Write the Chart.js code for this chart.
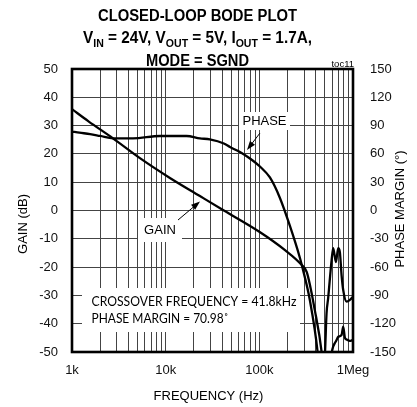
<!DOCTYPE html>
<html>
<head>
<meta charset="utf-8">
<script src="https://cdn.jsdelivr.net/npm/chart.js@4"></script>
<style>
  body { margin: 0; background: #fff; }
  canvas { display: block; }
</style>
</head>
<body>
<canvas id="grafico" width="417" height="407"></canvas>
<script>
// datos
const gainFreq = [1000, 1500, 2740, 5310, 11100, 23200, 41800, 100000, 188000, 284000, 321000, 391000, 464000, 480000, 501000, 522000, 543000, 591000, 615000, 657000, 695000, 724000, 755000, 786000, 855000, 926000, 1000000];
const gainDb = [35.8, 31.5, 25.5, 18.5, 11.5, 5.1, 0, -7.5, -14, -19.3, -21.8, -35.2, -50.4, -56, -51, -36.3, -31, -17.5, -13.3, -18.2, -13.3, -14.7, -22.8, -28.1, -32.2, -31.6, -30.5];

const phaseFreq = [1000, 1200, 1560, 2000, 2740, 4480, 8690, 16700, 23200, 29600, 41800, 48600, 62100, 79400, 101500, 129700, 165900, 212100, 271300, 284000, 346000, 420000, 440000, 560000, 591000, 668000, 695000, 755000, 786000, 820000, 855000, 926000, 1000000];
const phaseDeg = [83.7, 82.5, 81, 79, 76.5, 76.5, 79, 79, 76.5, 75.3, 71, 67.3, 62, 55.1, 46.6, 35, 13.3, -16.4, -50.3, -57.8, -94.9, -151, -175, -175, -151.4, -137.3, -133.8, -132, -123.2, -135, -136.7, -138.3, -137];

const freqTicks = [1000, 2000, 3000, 4000, 5000, 6000, 7000, 8000, 9000,
  10000, 20000, 30000, 40000, 50000, 60000, 70000, 80000, 90000,
  100000, 200000, 300000, 400000, 500000, 600000, 700000, 800000, 900000, 1000000];
const freqLabelValues = [1000, 10000, 100000, 1000000];
const freqLabelText = ['1k', '10k', '100k', '1Meg'];

const gainMin = -50, gainMax = 50, gainStep = 10;
const phaseMin = -150, phaseMax = 150, phaseStep = 30;

const fuente = "'Liberation Sans', Arial, sans-serif";
const colorGrilla = '#444';

// texto con subindices, comprimido al ancho pedido
function textoRico(ctx, partes, cx, base, ancho) {
  let total = 0;
  partes.forEach(p => {
    ctx.font = p.sub ? `bold 11px ${fuente}` : `bold 16px ${fuente}`;
    total += ctx.measureText(p.t).width;
  });
  ctx.save();
  ctx.translate(cx, base);
  ctx.scale(ancho / total, 1);
  ctx.textAlign = 'left';
  ctx.textBaseline = 'alphabetic';
  let x = -total / 2;
  partes.forEach(p => {
    ctx.font = p.sub ? `bold 11px ${fuente}` : `bold 16px ${fuente}`;
    ctx.fillText(p.t, x, p.sub ? 3.6 : 0);
    x += ctx.measureText(p.t).width;
  });
  ctx.restore();
}

function textoAjustado(ctx, txt, x, base, ancho, font) {
  ctx.save();
  ctx.font = font;
  const w = ctx.measureText(txt).width;
  ctx.translate(x, base);
  ctx.scale(ancho / w, 1);
  ctx.textAlign = 'left';
  ctx.textBaseline = 'alphabetic';
  ctx.fillText(txt, 0, 0);
  ctx.restore();
}

function flecha(ctx, x1, y1, x2, y2) {
  const ang = Math.atan2(y2 - y1, x2 - x1);
  const largo = 9, mitad = 3.2;
  ctx.save();
  ctx.strokeStyle = '#000';
  ctx.fillStyle = '#000';
  ctx.lineWidth = 1;
  ctx.beginPath();
  ctx.moveTo(x1, y1);
  ctx.lineTo(x2 - largo * Math.cos(ang) * 0.8, y2 - largo * Math.sin(ang) * 0.8);
  ctx.stroke();
  ctx.beginPath();
  ctx.moveTo(x2, y2);
  ctx.lineTo(x2 - largo * Math.cos(ang) + mitad * Math.sin(ang), y2 - largo * Math.sin(ang) - mitad * Math.cos(ang));
  ctx.lineTo(x2 - largo * Math.cos(ang) - mitad * Math.sin(ang), y2 - largo * Math.sin(ang) + mitad * Math.cos(ang));
  ctx.closePath();
  ctx.fill();
  ctx.restore();
}

const marcos = {
  id: 'marcos',
  beforeDatasetsDraw(chart) {
    const ctx = chart.ctx;
    ctx.save();
    ctx.fillStyle = '#fff';
    ctx.fillRect(239, 112, 51, 18);   // PHASE
    ctx.fillRect(138, 218, 44, 24);   // GAIN
    ctx.fillRect(82, 288, 218, 44);   // CROSSOVER
    ctx.restore();
  },
  afterDatasetsDraw(chart) {
    const ctx = chart.ctx;
    const a = chart.chartArea;
    ctx.save();
    ctx.strokeStyle = '#000';
    ctx.lineWidth = 2.6;
    ctx.strokeRect(a.left, a.top, a.right - a.left, a.bottom - a.top);
    ctx.restore();
  },
  afterDraw(chart) {
    const ctx = chart.ctx;
    ctx.save();
    ctx.fillStyle = '#000';

    textoRico(ctx, [{ t: 'CLOSED-LOOP BODE PLOT' }], 197.5, 20.7, 199);
    textoRico(ctx, [
      { t: 'V' }, { t: 'IN', sub: true }, { t: ' = 24V, V' }, { t: 'OUT', sub: true },
      { t: ' = 5V, I' }, { t: 'OUT', sub: true }, { t: ' = 1.7A,' }
    ], 197.5, 43.3, 229);
    textoRico(ctx, [{ t: 'MODE = SGND' }], 197.5, 66, 103);

    ctx.font = `9.5px ${fuente}`;
    ctx.textAlign = 'right';
    ctx.textBaseline = 'alphabetic';
    ctx.fillText('toc11', 354, 67);

    ctx.font = `13px ${fuente}`;
    ctx.textAlign = 'center';
    ctx.textBaseline = 'middle';
    ctx.fillText('PHASE', 264.5, 121);
    ctx.fillText('GAIN', 160, 230);
    ctx.fillText('FREQUENCY (Hz)', 208.5, 396);

    ctx.save();
    ctx.translate(23, 224);
    ctx.rotate(-Math.PI / 2);
    ctx.fillText('GAIN (dB)', 0, 0);
    ctx.restore();

    ctx.save();
    ctx.translate(400, 209);
    ctx.rotate(-Math.PI / 2);
    ctx.fillText('PHASE MARGIN (°)', 0, 0);
    ctx.restore();

    textoAjustado(ctx, 'CROSSOVER FREQUENCY = 41.8kHz', 91.5, 306, 205, `13px Lato, sans-serif`);
    textoAjustado(ctx, 'PHASE MARGIN = 70.98˚', 91.5, 323.3, 137, `13px Lato, sans-serif`);

    flecha(ctx, 260, 133, 247, 150);
    flecha(ctx, 178, 220, 200, 201.5);
    ctx.restore();
  }
};

const curvas = [
  { label: 'GAIN', freq: gainFreq, val: gainDb, eje: 'y' },
  { label: 'PHASE', freq: phaseFreq, val: phaseDeg, eje: 'y1' }
];

new Chart(document.getElementById('grafico'), {
  type: 'line',
  data: {
    datasets: curvas.map(c => ({
      label: c.label,
      data: c.freq.map((f, i) => ({ x: f, y: c.val[i] })),
      yAxisID: c.eje,
      borderColor: '#000',
      borderWidth: 2.3,
      pointRadius: 0,
      cubicInterpolationMode: 'monotone',
      fill: false
    }))
  },
  options: {
    responsive: false,
    devicePixelRatio: 1,
    animation: false,
    layout: { padding: { top: 69, left: 0, right: 0, bottom: 0 } },
    plugins: { legend: { display: false }, tooltip: { enabled: false }, title: { display: false } },
    scales: {
      x: {
        type: 'logarithmic',
        min: 1000,
        max: 1000000,
        afterBuildTicks: s => { s.ticks = freqTicks.map(v => ({ value: v })); },
        afterFit: s => { s.height = 55; },
        grid: { color: colorGrilla, lineWidth: 1, drawTicks: false },
        border: { display: false },
        ticks: {
          autoSkip: false,
          maxRotation: 0,
          padding: 11,
          color: '#111',
          font: { family: fuente, size: 13 },
          callback: v => {
            const i = freqLabelValues.indexOf(v);
            return i >= 0 ? freqLabelText[i] : '';
          }
        }
      },
      y: {
        position: 'left',
        min: gainMin,
        max: gainMax,
        afterFit: s => { s.width = 72; },
        grid: { color: colorGrilla, lineWidth: 1, drawTicks: false },
        border: { display: false },
        ticks: { stepSize: gainStep, padding: 14, color: '#111', font: { family: fuente, size: 13 } }
      },
      y1: {
        position: 'right',
        min: phaseMin,
        max: phaseMax,
        afterFit: s => { s.width = 64; },
        grid: { display: false, drawTicks: false },
        border: { display: false },
        ticks: { stepSize: phaseStep, padding: 17, color: '#111', font: { family: fuente, size: 13 } }
      }
    }
  },
  plugins: [marcos]
});
</script>
</body>
</html>
